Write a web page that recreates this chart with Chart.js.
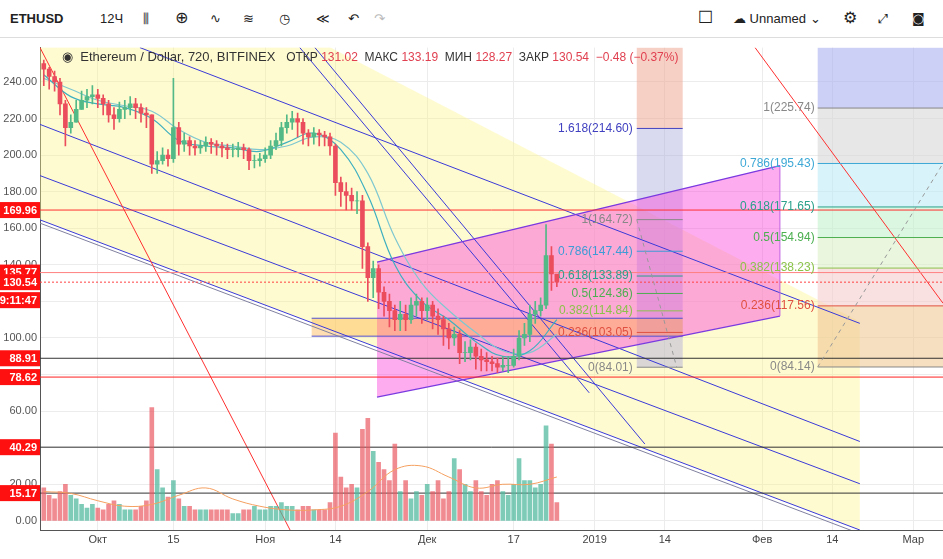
<!DOCTYPE html>
<html><head><meta charset="utf-8">
<script src="https://cdn.jsdelivr.net/npm/chart.js@4.4.0/dist/chart.umd.min.js"></script>
<style>
body{margin:0;width:943px;height:559px;overflow:hidden;background:#fff;font-family:"Liberation Sans",Arial,sans-serif;}
#bar{position:absolute;left:0;top:0;width:943px;height:37px;border-bottom:1px solid #ddd;font-size:13px;color:#222;}
#bar span{position:absolute;top:11px;}
#wrap{position:absolute;left:0;top:38px;width:943px;height:521px;}
#leg{position:absolute;left:62px;top:49px;font-size:13px;color:#333;white-space:nowrap;}
</style></head><body>
<div id="bar">
<span style="left:10px;font-weight:bold">ETHUSD</span>
<span style="left:100px">12Ч</span>
<span style="left:143px;font-family:'DejaVu Sans'">⫼</span><span style="left:175px;font-size:16px;top:8px;font-family:'DejaVu Sans'">⊕</span>
<span style="left:210px;font-family:'DejaVu Sans'">∿</span><span style="left:243px;font-family:'DejaVu Sans'">≋</span><span style="left:279px;font-family:'DejaVu Sans'">◷</span>
<span style="left:316px;font-family:'DejaVu Sans'">≪</span><span style="left:348px;font-family:'DejaVu Sans'">↶</span><span style="left:374px;color:#bbb;font-family:'DejaVu Sans'">↷</span>
<span style="left:698px;font-size:17px;top:7px;font-family:'DejaVu Sans'">☐</span>
<span style="left:733px"><span style="position:static;font-family:'DejaVu Sans'">☁</span> Unnamed ⌄</span>
<span style="left:843px;font-size:16px;top:8px;font-family:'DejaVu Sans'">⚙</span><span style="left:878px;font-family:'DejaVu Sans'">⤢</span><span style="left:912px;font-family:'DejaVu Sans'">◙</span>
</div>
<div id="wrap"><canvas id="c" width="943" height="521"></canvas></div>
<div id="leg">◉ &nbsp;Ethereum / Dollar, 720, BITFINEX &nbsp;&nbsp;<span style="font-size:12px">ОТКР <span style="color:#e04050">131.02</span> &nbsp;МАКС <span style="color:#e04050">133.19</span> &nbsp;МИН <span style="color:#e04050">128.27</span> &nbsp;ЗАКР <span style="color:#e04050">130.54</span> &nbsp;<span style="color:#e04050">−0.48 (−0.37%)</span></span></div>
<script>
// day index: 0 = 1 Oct 2018; first candle = -10 (21 Sep)
const firstDay = -10;
const closes = [247,243,240,228,215,218,225,230,232,233,
231,228,222,220,225,226,228,226,223,222,
195,197,200,198,215,206,208,205,204,205,
207,206,205,204,203,203,204,203,197,197,
198,200,205,208,215,218,220,218,212,210,
212,211,210,205,185,180,178,175,175,150,
133,138,125,120,115,110,113,110,118,120,
115,118,112,110,105,100,102,92,92,95,
90,88,87,86,84,85,85,90,100,102,
113,115,118,145,135,130.54];
const highs = [252,248,246,242,230,222,230,235,236,238,
236,233,230,226,229,230,232,231,228,226,
222,202,204,203,242,218,212,210,208,208,
210,209,208,207,206,206,207,206,204,200,
201,204,208,212,218,222,224,223,220,214,
215,214,213,212,206,188,185,182,180,178,
152,142,140,128,124,118,120,118,122,124,
122,122,120,116,112,108,106,104,98,99,
97,94,92,90,89,90,90,94,104,108,
118,120,122,162,150,134];
const lows = [238,236,235,222,205,212,218,225,226,228,
226,222,218,214,218,220,222,220,218,215,
190,190,195,194,196,200,202,200,200,201,
202,201,200,199,198,199,199,198,192,193,
194,196,198,203,205,212,214,210,206,205,
206,205,205,200,178,172,170,170,168,138,
120,122,116,112,106,104,104,104,108,112,
108,110,105,102,96,94,96,86,87,88,
83,82,82,82,81,82,81,84,88,96,
98,108,112,116,126,128];
const volumes = [18,14,12,16,20,14,12,9,7,9,
7,6,9,11,9,6,6,6,8,11,
62,28,18,13,22,12,8,8,6,6,
6,6,6,6,6,4,4,6,6,8,
6,6,8,8,10,8,8,6,8,8,
6,6,6,10,48,24,18,20,18,50,
56,38,32,28,22,42,16,22,12,16,
14,20,16,22,12,16,34,28,20,16,
22,16,14,20,22,16,14,20,34,22,
22,18,20,52,42,10];
const volMaDays = [-10,-5,0,5,10,15,20,25,30,35,40,45,50,55,60,65,70,75,80,85];
const volMa = [16,15,11,8,9,14,18,12,8,6,6,8,16,28,30,24,18,20,20,24];
const maDays = [-10,-5,0,5,10,15,20,25,30,35,40,45,50,55,60,65,70,75,80,85];
const maFast = [244,232,228,226,220,208,205,204,202,207,212,203,178,140,120,110,98,90,93,110];
const maSlow = [242,236,230,227,224,214,207,205,203,205,210,207,190,155,130,115,103,93,92,102];
const xTicks = [0,14,31,44,61,77,92,105,123,136,151];
const xTickLabels = ["Окт","15","Ноя","14","Дек","17","2019","14","Фев","14","Мар"];
const yTicks = [0,20,40,60,80,100,120,140,160,180,200,220,240];
// annotations [d1,v1,d2,v2]
const blueLines = [[7.8,258.8,141.1,108],[-10.7,216.8,141.1,43.4],[-10.7,188.8,141.1,20.3],[-10.7,164.6,141.1,-5],[40.2,258.8,101.3,42],[37.4,258.8,91,70]];
const greyLines = [[-10.7,162.8,141.1,-7]];
const redDiag = [[-10.7,258.8,35.6,-5],[121.7,258.8,156.5,119]];
const yellowPoly = [[-10.7,259],[43,259],[141.1,109],[141.1,-5],[-10.7,164.6]];
const pinkPoly = [[51.7,141.5],[126.3,194.3],[126.3,112],[51.7,67.7]];
const boxRange = [39.6,108.3,110.8,101];
const hLines = [[169.96,"#ff3030",[]],[135.77,"#ff8080",[]],[130.54,"#ff4040",[2,2]],[88.91,"#333",[]],[78.62,"#ff2020",[]],[40.29,"#333",[]],[15.17,"#333",[]]];
const priceBoxes = [[169.96,"169.96"],[135.77,"135.77"],[130.54,"130.54"],[88.91,"88.91"],[78.62,"78.62"],[40.29,"40.29"],[15.17,"15.17"]];
const fib1Ratios = ["1.618","1","0.786","0.618","0.5","0.382","0.236","0"];
const fib1Prices = [214.60,164.72,147.44,133.89,124.36,114.84,103.05,84.01];
const fib1Colors = ["#4040c0","#888","#3d9bd6","#2aa08a","#4caf50","#8bc34a","#e05040","#888"];
const fib1X = [99.8,108.3];
const fib2Ratios = ["1","0.786","0.618","0.5","0.382","0.236","0"];
const fib2Prices = [225.74,195.43,171.65,154.94,138.23,117.56,84.14];
const fib2Colors = ["#888","#3da8d6","#2aa08a","#4caf50","#8bc34a","#e05040","#888"];
const fib2Bands = ["rgba(170,175,240,0.6)","rgba(215,215,215,0.6)","rgba(190,235,245,0.6)","rgba(195,240,205,0.6)","rgba(220,240,200,0.6)","rgba(245,205,205,0.6)","rgba(240,200,150,0.6)"];
const fib2X = [133.3,156.5];

const opens = closes.map((c,i)=> i===0 ? 250 : closes[i-1]);
const idx = closes.map((_,i)=>firstDay+i);
const up = closes.map((c,i)=>c>=opens[i]);
const upC="#53b987", dnC="#eb4d5c";

const annot = {
 id:'annot',
 beforeDatasetsDraw(ch){
  const {ctx,scales:{x,y},chartArea:a}=ch;
  const P=(d,v)=>[x.getPixelForValue(d),y.getPixelForValue(v)];
  ctx.save(); ctx.beginPath(); ctx.rect(a.left,a.top,a.right-a.left,a.bottom-a.top); ctx.clip();
  const poly=(pts,fill)=>{ctx.beginPath();pts.forEach((p,i)=>{const q=P(p[0],p[1]);i?ctx.lineTo(q[0],q[1]):ctx.moveTo(q[0],q[1]);});ctx.closePath();ctx.fillStyle=fill;ctx.fill();};
  poly(yellowPoly,"rgba(255,245,140,0.4)");
  const fx1=x.getPixelForValue(fib2X[0]), fx2=x.getPixelForValue(fib2X[1]);
  ctx.fillStyle=fib2Bands[0]; ctx.fillRect(fx1,a.top,fx2-fx1,y.getPixelForValue(fib2Prices[0])-a.top);
  for(let i=0;i<fib2Prices.length-1;i++){const y1=y.getPixelForValue(fib2Prices[i]),y2=y.getPixelForValue(fib2Prices[i+1]);ctx.fillStyle=fib2Bands[i+1];ctx.fillRect(fx1,y1,fx2-fx1,y2-y1);}
  const gx1=x.getPixelForValue(fib1X[0]), gx2=x.getPixelForValue(fib1X[1]);
  const t1=y.getPixelForValue(fib1Prices[0]);
  ctx.fillStyle="rgba(240,170,150,0.55)"; ctx.fillRect(gx1,a.top,gx2-gx1,t1-a.top);
  ctx.fillStyle="rgba(170,170,220,0.45)"; ctx.fillRect(gx1,t1,gx2-gx1,y.getPixelForValue(fib1Prices[7])-t1);
  poly(pinkPoly,"rgba(250,70,220,0.45)");
  const bx1=x.getPixelForValue(boxRange[0]),bx2=x.getPixelForValue(boxRange[1]),by1=y.getPixelForValue(boxRange[2]),by2=y.getPixelForValue(boxRange[3]);
  ctx.fillStyle="rgba(255,175,60,0.4)"; ctx.fillRect(bx1,by1,bx2-bx1,by2-by1);
  ctx.strokeStyle="#5050d0"; ctx.lineWidth=1;
  ctx.beginPath(); ctx.moveTo(bx1,by1);ctx.lineTo(bx2,by1);ctx.moveTo(bx1,by2);ctx.lineTo(bx2,by2);ctx.stroke();
  const seg=(l,c,w)=>{const p=P(l[0],l[1]),q=P(l[2],l[3]);ctx.strokeStyle=c;ctx.lineWidth=w;ctx.beginPath();ctx.moveTo(p[0],p[1]);ctx.lineTo(q[0],q[1]);ctx.stroke();};
  blueLines.forEach(l=>seg(l,"#3a3ad8",1));
  greyLines.forEach(l=>seg(l,"#8080a0",1));
  redDiag.forEach(l=>seg(l,"#ff3030",1));
  seg([pinkPoly[0][0],pinkPoly[0][1],pinkPoly[1][0],pinkPoly[1][1]],"#7a3ae0",1.2);
  seg([pinkPoly[3][0],pinkPoly[3][1],pinkPoly[2][0],pinkPoly[2][1]],"#7a3ae0",1.2);
  seg([pinkPoly[1][0],pinkPoly[1][1],pinkPoly[2][0],pinkPoly[2][1]],"#c060e0",1);
  hLines.forEach(h=>{const yy=y.getPixelForValue(h[0]);ctx.setLineDash(h[2]);ctx.strokeStyle=h[1];ctx.lineWidth=1;ctx.beginPath();ctx.moveTo(a.left,yy);ctx.lineTo(a.right,yy);ctx.stroke();});
  ctx.setLineDash([]);
  ctx.font="12px 'Liberation Sans',Arial"; ctx.textAlign="right"; ctx.textBaseline="middle";
  fib1Prices.forEach((p,i)=>{const yy=y.getPixelForValue(p);ctx.strokeStyle=fib1Colors[i];ctx.beginPath();ctx.moveTo(gx1,yy);ctx.lineTo(gx2,yy);ctx.stroke();ctx.fillStyle=fib1Colors[i];ctx.fillText(fib1Ratios[i]+"("+p.toFixed(2)+")",gx1-4,yy);});
  fib2Prices.forEach((p,i)=>{const yy=y.getPixelForValue(p);ctx.strokeStyle=fib2Colors[i];ctx.beginPath();ctx.moveTo(fx1,yy);ctx.lineTo(fx2,yy);ctx.stroke();ctx.fillStyle=fib2Colors[i];ctx.fillText(fib2Ratios[i]+"("+p.toFixed(2)+")",fx1-3,yy);});
  ctx.setLineDash([4,4]); ctx.strokeStyle="#999";
  let p=P(fib1X[0],fib1Prices[1]),q=P(fib1X[1],fib1Prices[7]); ctx.beginPath();ctx.moveTo(p[0],p[1]);ctx.lineTo(q[0]-6,q[1]);ctx.stroke();
  p=P(fib2X[0],fib2Prices[6]);q=P(fib2X[1],fib2Prices[1]); ctx.beginPath();ctx.moveTo(p[0],p[1]);ctx.lineTo(q[0],q[1]);ctx.stroke();
  ctx.restore();
 },
 afterDraw(ch){
  const {ctx,scales:{y},chartArea:a}=ch;
  ctx.save(); ctx.font="bold 11px 'Liberation Sans',Arial"; ctx.textAlign="right"; ctx.textBaseline="middle";
  const box=(yy,t)=>{ctx.fillStyle="#ff1010";ctx.fillRect(0,yy-8,a.left,16);ctx.fillStyle="#fff";ctx.fillText(t,a.left-3,yy+0.5);};
  priceBoxes.forEach(b=>box(y.getPixelForValue(b[0]),b[1]));
  box(y.getPixelForValue(130.54)+18,"09:11:47");
  ctx.restore();
 }
};

new Chart(document.getElementById('c'),{
 data:{datasets:[
  {type:'bar',data:idx.map((d,i)=>({x:d,y:[opens[i],closes[i]]})),backgroundColor:up.map(u=>u?upC:dnC),barThickness:4,grouped:false,order:1},
  {type:'bar',data:idx.map((d,i)=>({x:d,y:[lows[i],highs[i]]})),backgroundColor:up.map(u=>u?upC:dnC),barThickness:1,grouped:false,order:2},
  {type:'line',data:maDays.map((d,i)=>({x:d,y:maFast[i]})),borderColor:"#3fb0c0",borderWidth:1.2,pointRadius:0,tension:0.4,order:3},
  {type:'line',data:maDays.map((d,i)=>({x:d,y:maSlow[i]})),borderColor:"#7fc8d0",borderWidth:1.2,pointRadius:0,tension:0.4,order:3},
  {type:'line',data:volMaDays.map((d,i)=>({x:d,y:volMa[i]})),borderColor:"#f5a060",borderWidth:1,pointRadius:0,tension:0.4,order:4},
  {type:'bar',data:idx.map((d,i)=>({x:d,y:[0,volumes[i]]})),backgroundColor:up.map(u=>u?"rgba(83,185,160,0.75)":"rgba(235,90,100,0.7)"),barThickness:4,grouped:false,order:5}
 ]},
 options:{responsive:false,animation:false,devicePixelRatio:1,
  layout:{padding:{top:2,right:0}},
  plugins:{legend:{display:false},tooltip:{enabled:false}},
  scales:{
   x:{type:'linear',min:-10.7,max:156.5,offset:false,
      afterBuildTicks:s=>{s.ticks=xTicks.map(v=>({value:v}));},
      ticks:{callback:v=>xTickLabels[xTicks.indexOf(v)]||"",color:"#444",font:{size:11,family:"Liberation Sans"},maxRotation:0,autoSkip:false},
      grid:{color:"#ececec",drawTicks:false,offset:false},border:{color:"#555"},afterFit:s=>{s.height=29;}},
   y:{position:'left',min:-5,max:258.8,
      afterBuildTicks:s=>{s.ticks=yTicks.map(v=>({value:v}));},
      ticks:{callback:v=>v.toFixed(2),color:"#555",font:{size:11,family:"Liberation Sans"},padding:3},
      grid:{color:"#ececec",drawTicks:false},border:{color:"#555"},afterFit:s=>{s.width=40;}}
  }
 },
 plugins:[annot]
});
</script>
</body></html>
